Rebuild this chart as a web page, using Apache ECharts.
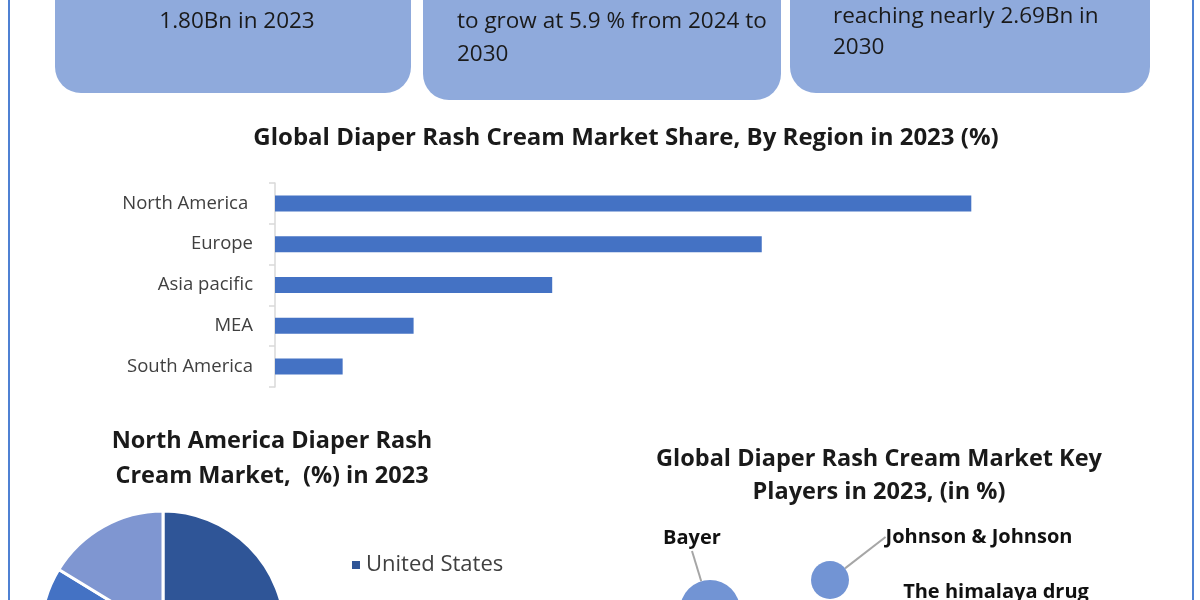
<!DOCTYPE html>
<html lang="en">
<head>
    <meta charset="UTF-8">
    <title>Global Diaper Rash Cream Market</title>
    <style>
        html, body {
            margin: 0;
            padding: 0;
            background: #ffffff;
        }
        #chart {
            width: 1200px;
            height: 600px;
        }
    </style>
    <script src="https://cdn.jsdelivr.net/npm/echarts@6.0.0/dist/echarts.min.js"></script>
</head>
<body>
    <div id="chart"></div>

    <script>
        // share by region, 2023 (%)
        const regions = ['North America ', 'Europe', 'Asia pacific', 'MEA', 'South America'];
        const regionShare = [42.2, 29.5, 16.8, 8.4, 4.1];

        // north america split (%)
        const naCountries = ['United States', 'Canada', 'Mexico'];
        const naShare = [62.0, 21.7, 16.3];
        const naColors = ['#2F5597', '#4472C4', '#7F96D1'];

        // key players bubbles: position on a hidden grid + share
        const players = ['Bayer', 'Johnson & Johnson', 'The himalaya drug\ncompany'];
        const playerX = [2.2, 4.6, 6.1];
        const playerY = [4.5, 6.0, 2.0];
        const playerShare = [25, 10, 12];

        const FONT = '"Open Sans", "Noto Sans", sans-serif';

        // label offsets (px) of the bubble labels, relative to bubble centre
        const labelOffsets = [[-18, -72], [149, -43], [91, -55]];

        const chart = echarts.init(document.getElementById('chart'));

        function box(x, y, w, h) {
            return {
                type: 'rect',
                shape: { x: x, y: y, width: w, height: h, r: 26 },
                style: { fill: '#8FAADC' },
                z: 0
            };
        }

        function boxText(x, y, text, align, lh) {
            return {
                type: 'text',
                x: x,
                y: y,
                style: {
                    text: text,
                    fill: '#1a1a1a',
                    font: '22.5px ' + FONT,
                    align: align,
                    verticalAlign: 'middle',
                    lineHeight: lh
                },
                z: 1
            };
        }

        const option = {
            backgroundColor: '#ffffff',
            animation: false,
            textStyle: { fontFamily: FONT },
            title: [
                {
                    text: 'Global Diaper Rash Cream Market Share, By Region in 2023 (%)',
                    left: 626,
                    top: 124,
                    textAlign: 'center',
                    padding: 0,
                    textStyle: { fontSize: 24, fontWeight: 'bold', color: '#1a1a1a', lineHeight: 28 }
                },
                {
                    text: 'North America Diaper Rash\nCream Market,  (%) in 2023',
                    left: 272,
                    top: 424,
                    textAlign: 'center',
                    padding: 0,
                    textStyle: { fontSize: 23.5, fontWeight: 'bold', color: '#1a1a1a', lineHeight: 35 }
                },
                {
                    text: 'Global Diaper Rash Cream Market Key\nPlayers in 2023, (in %)',
                    left: 879,
                    top: 443,
                    textAlign: 'center',
                    padding: 0,
                    textStyle: { fontSize: 23.5, fontWeight: 'bold', color: '#1a1a1a', lineHeight: 33 }
                }
            ],
            legend: {
                data: naCountries,
                orient: 'vertical',
                left: 350,
                top: 554,
                height: 300,
                width: 250,
                itemWidth: 10,
                itemHeight: 10,
                itemGap: 40,
                icon: 'rect',
                padding: 0,
                textStyle: { fontSize: 22, color: '#404040', fontFamily: FONT }
            },
            grid: [
                { left: 275, right: 100, top: 183, bottom: 213, outerBoundsMode: 'none' },
                { left: 600, width: 500, top: 500, height: 200, outerBoundsMode: 'none' }
            ],
            xAxis: [
                { gridIndex: 0, type: 'value', min: 0, max: 50, show: false },
                { gridIndex: 1, type: 'value', min: 0, max: 10, show: false }
            ],
            yAxis: [
                {
                    gridIndex: 0,
                    type: 'category',
                    data: regions,
                    inverse: true,
                    axisLine: { show: true, lineStyle: { color: '#D9D9D9', width: 1.5 } },
                    axisTick: { show: true, length: 6, lineStyle: { color: '#D9D9D9', width: 1.5 } },
                    axisLabel: { fontSize: 18.5, color: '#404040', margin: 22, fontFamily: FONT },
                    splitLine: { show: false }
                },
                { gridIndex: 1, type: 'value', min: 0, max: 10, show: false }
            ],
            series: [
                {
                    type: 'bar',
                    xAxisIndex: 0,
                    yAxisIndex: 0,
                    data: regionShare,
                    barWidth: 16,
                    itemStyle: { color: '#4472C4' },
                    silent: true
                },
                {
                    type: 'pie',
                    center: [163, 633],
                    radius: 122,
                    startAngle: 90,
                    clockwise: true,
                    data: naCountries.map((n, i) => ({
                        name: n,
                        value: naShare[i],
                        itemStyle: { color: naColors[i] }
                    })),
                    label: { show: false },
                    labelLine: { show: false },
                    itemStyle: { borderColor: '#ffffff', borderWidth: 3 },
                    silent: true
                },
                {
                    type: 'scatter',
                    xAxisIndex: 1,
                    yAxisIndex: 1,
                    clip: false,
                    data: players.map((n, i) => ({
                        name: n,
                        value: [playerX[i], playerY[i], playerShare[i]]
                    })),
                    symbolSize: function (v) { return Math.sqrt(v[2]) * 12; },
                    itemStyle: { color: '#7294D4', opacity: 1 },
                    label: {
                        show: true,
                        position: 'inside',
                        formatter: p => p.name,
                        fontSize: 20,
                        fontWeight: 'bold',
                        color: '#111111',
                        lineHeight: 26,
                        fontFamily: FONT
                    },
                    labelLayout: function (params) {
                        const o = labelOffsets[params.dataIndex];
                        return { dx: o[0], dy: o[1] };
                    },
                    labelLine: { show: true, lineStyle: { color: '#A6A6A6', width: 2 } },
                    silent: true
                }
            ],
            graphic: [
                box(55, -40, 356, 133),
                box(423, -40, 358, 140),
                box(790, -40, 360, 133),
                boxText(237, 22, '1.80Bn in 2023', 'center', 33),
                boxText(457, 38, 'to grow at 5.9 % from 2024 to\n2030', 'left', 33),
                boxText(833, 32, 'reaching nearly 2.69Bn in\n2030', 'left', 31),
                {
                    type: 'line',
                    shape: { x1: 9, y1: 0, x2: 9, y2: 600 },
                    style: { stroke: '#4F81D3', lineWidth: 2 }
                },
                {
                    type: 'line',
                    shape: { x1: 1193, y1: 0, x2: 1193, y2: 600 },
                    style: { stroke: '#4F81D3', lineWidth: 2 }
                }
            ]
        };

        chart.setOption(option);
    </script>
</body>
</html>
